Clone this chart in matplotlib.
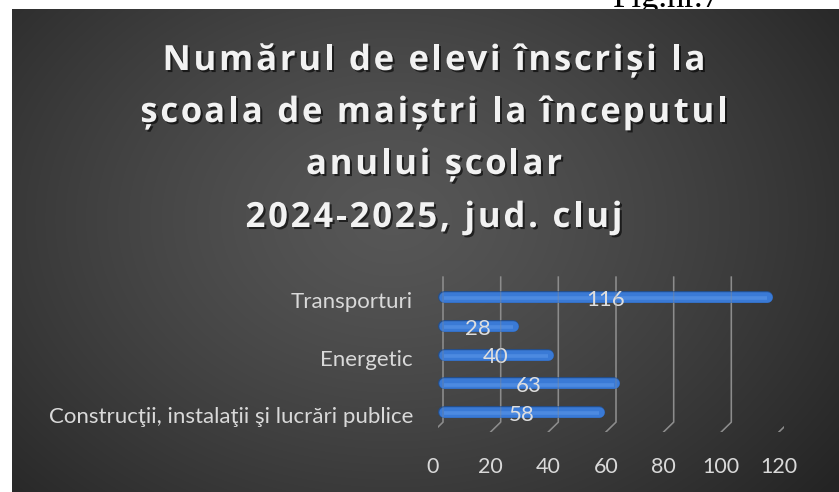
import numpy as np
import matplotlib.pyplot as plt
import matplotlib.patheffects as pe
import matplotlib.transforms as mtransforms

# data, bottom to top as drawn
categories = ["Construcţii, instalaţii şi lucrări publice", "", "Energetic", "", "Transporturi"]
values = [58, 63, 40, 28, 116]
xticks = [0, 20, 40, 60, 80, 100, 120]
title_lines = ["Numărul de elevi înscriși la",
               "școala de maiștri la începutul",
               "anului școlar",
               "2024-2025, jud. cluj"]

W, H = 839, 492
fig = plt.figure(figsize=(W / 100, H / 100), dpi=100, facecolor="white")

label_font = ["Lato", "DejaVu Sans"]
title_font = ["Open Sans", "DejaVu Sans"]

# caption above the dark panel, mostly cut off
fig.text(613 / W, 1 - 7 / H, "Fig.nr.7", family=["Liberation Serif", "DejaVu Serif"],
         fontsize=25, color="black", va="baseline", ha="left", zorder=-5)

# dark panel with radial shading
bg = fig.add_axes([12 / W, 0, 1 - 12 / W, (H - 9) / H])
bg.set_axis_off()
ph, pw = H - 9, W - 12
yy, xx = np.mgrid[0:ph, 0:pw]
d = np.hypot((xx - 380) / 560, (yy - 210) / 420)
d = np.clip(d, 0, 1)
lum = 0.34 - (0.34 - 0.145) * d ** 1.3
img = np.dstack([lum, lum, lum])
bg.imshow(img, aspect="auto", extent=[0, 1, 0, 1], origin="upper")
bg.set_xlim(0, 1)
bg.set_ylim(0, 1)

# title, drawn letter by letter to get the wide tracking
renderer = fig.canvas.get_renderer()
tprops = dict(family=title_font, fontweight="bold", fontsize=25)
shadow = [pe.withSimplePatchShadow(offset=(1.5, -1.5), shadow_rgbFace="black", alpha=0.6)]


def text_width(s):
    t = fig.text(0, 0, s, **tprops)
    w = t.get_window_extent(renderer).width
    t.remove()
    return w


track = 2.7
base_y = [70, 122, 174, 227]
ref_w = text_width("x")
for line, by in zip(title_lines, base_y):
    total = text_width(line) + track * (len(line) - 1)
    x0 = 434 - total / 2
    for i, ch in enumerate(line):
        if ch == " ":
            continue
        off = text_width(line[:i] + "x") - ref_w if i else 0
        fig.text((x0 + off + i * track) / W, 1 - by / H, ch, color="#f2f2f2",
                 ha="left", va="baseline", path_effects=shadow, **tprops)

# plot area
px_unit = 346 / 120
y_top, y_bot = 275.4, 432.2
ax = fig.add_axes([438 / W, (H - y_bot) / H, 346 / W, (y_bot - y_top) / H])
ax.patch.set_alpha(0)
ax.set_xlim(0, 120)
ax.set_ylim(-0.7, 4.75)
for s in ax.spines.values():
    s.set_visible(False)

# 3d-ish gridlines: back wall vertical, slanting toward the front at the floor
depth = 5 / px_unit
for t in xticks:
    gx = [t + depth, t + depth, t - depth]
    gy = [4.69, -0.35, -0.69]
    ax.plot(gx, gy, color="#8c8c8c", lw=1.1, zorder=1)
    ax.plot(gx, gy, color="#8c8c8c", lw=1.0, alpha=0.35, zorder=6)

# rounded bars
r = 5.8 / px_unit
ypos = np.arange(len(values))
vals = np.array(values, dtype=float)
ax.hlines(ypos, r, vals - r, colors="#3a7ad6", lw=7.6, capstyle="round", zorder=3,
          path_effects=[pe.Stroke(linewidth=8.6, foreground="#244f8c"), pe.Normal()])
ax.hlines(ypos - 0.05, r, vals - r, colors="#5d98ea", lw=2.6, alpha=0.55, zorder=4)

for y, v in zip(ypos, values):
    ax.text(v / 2, y - 0.1, str(v), ha="center", va="center", color="#dedede",
            fontsize=16, family=label_font, zorder=5)

ax.set_xticks(xticks)
ax.set_xticklabels([str(t) for t in xticks], family=label_font, fontsize=15.5, color="#d9d9d9")
ax.set_yticks(ypos)
ax.set_yticklabels(categories, family=label_font, fontsize=16, color="#d9d9d9")
ax.tick_params(axis="x", length=0, pad=18)
ax.tick_params(axis="y", length=0, pad=18)
shift_x = mtransforms.ScaledTranslation(-5 / 100, 0, fig.dpi_scale_trans)
for lab in ax.get_xticklabels():
    lab.set_transform(lab.get_transform() + shift_x)
shift_y = mtransforms.ScaledTranslation(0, -3 / 100, fig.dpi_scale_trans)
for lab in ax.get_yticklabels():
    lab.set_transform(lab.get_transform() + shift_y)

fig.savefig("out.png", dpi=100, facecolor="white")
